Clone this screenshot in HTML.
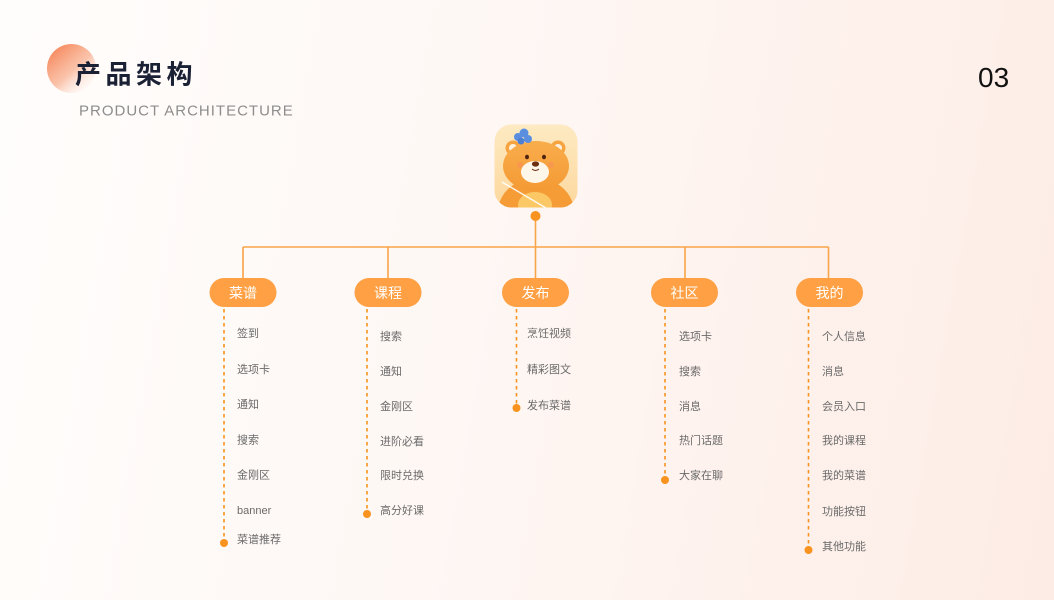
<!DOCTYPE html>
<html><head><meta charset="utf-8"><style>
html,body{margin:0;padding:0;}
body{width:1054px;height:600px;overflow:hidden;background:linear-gradient(100deg,#fffdfc 0%,#fef7f4 45%,#fdece5 100%);}
svg{display:block;}
.it{font-family:"Liberation Sans","Noto Sans CJK SC",sans-serif;font-size:11px;fill:#6a6a6a;}
.pl{font-family:"Liberation Sans","Noto Sans CJK SC",sans-serif;font-size:14px;fill:#fff;text-anchor:middle;}
</style></head><body>
<svg width="1054" height="600" viewBox="0 0 1054 600" xmlns="http://www.w3.org/2000/svg">
<defs>
<linearGradient id="cg" x1="0.15" y1="0.1" x2="0.85" y2="0.9">
<stop offset="0" stop-color="#f68b60"/>
<stop offset="0.55" stop-color="#f9b597" stop-opacity="0.8"/>
<stop offset="1" stop-color="#fde6dc" stop-opacity="0.1"/>
</linearGradient>
<linearGradient id="ig" x1="0" y1="0" x2="0" y2="1">
<stop offset="0" stop-color="#fdeac2"/>
<stop offset="1" stop-color="#fdd89e"/>
</linearGradient>
<linearGradient id="hg" x1="0" y1="0" x2="0" y2="1">
<stop offset="0" stop-color="#f9ad4c"/>
<stop offset="1" stop-color="#f49a34"/>
</linearGradient>
<clipPath id="ic"><rect x="494.5" y="124.5" width="83" height="83" rx="17"/></clipPath>
</defs>

<!-- title -->
<circle cx="71.5" cy="68.5" r="24.5" fill="url(#cg)"/>
<text x="75" y="83.5" style="font-family:'Liberation Sans','Noto Sans CJK SC',sans-serif;font-size:26px;font-weight:bold;letter-spacing:4.5px;fill:#1b2134">产品架构</text>
<text x="79" y="115.5" style="font-family:'Liberation Sans',sans-serif;font-size:15px;letter-spacing:1px;fill:#8d8d8d">PRODUCT ARCHITECTURE</text>
<text x="978" y="87" style="font-family:'Liberation Sans',sans-serif;font-size:28px;fill:#111">03</text>

<!-- icon -->
<g clip-path="url(#ic)">
<rect x="494.5" y="124.5" width="83" height="83" fill="url(#ig)"/>
<ellipse cx="536" cy="212" rx="38" ry="34" fill="#f59c37"/>
<ellipse cx="535" cy="205" rx="17" ry="13" fill="#fcc866"/>
<circle cx="513" cy="148" r="7.5" fill="#f7a33f"/>
<circle cx="513" cy="148" r="4" fill="#fff1de"/>
<circle cx="558" cy="148" r="7.5" fill="#f7a33f"/>
<circle cx="558" cy="148" r="4" fill="#fff1de"/>
<ellipse cx="536" cy="166" rx="33" ry="25" fill="url(#hg)"/>
<ellipse cx="535" cy="172" rx="14" ry="11" fill="#fff6ea"/>
<circle cx="520" cy="165" r="3" fill="#f98b5c" opacity="0.5"/>
<circle cx="551" cy="165" r="3" fill="#f98b5c" opacity="0.5"/>
<ellipse cx="527" cy="157" rx="2" ry="2.3" fill="#4e2410"/>
<ellipse cx="544" cy="157" rx="2" ry="2.3" fill="#4e2410"/>
<ellipse cx="535.5" cy="164" rx="3.6" ry="2.6" fill="#6b2f12"/>
<path d="M532 169 Q535.5 172 539 169" stroke="#6b2f12" stroke-width="1" fill="none"/>
<line x1="502" y1="182" x2="546" y2="208" stroke="#fff" stroke-width="1.4" opacity="0.9"/>
<circle cx="518" cy="137" r="4" fill="#5a8fe0"/>
<circle cx="524" cy="133" r="4.5" fill="#5a8fe0"/>
<circle cx="528" cy="139" r="4" fill="#5a8fe0"/>
<circle cx="521" cy="141" r="3.5" fill="#4d7fd3"/>
</g>

<!-- connectors -->
<g stroke="#f8a448" stroke-width="1.6" fill="none">
<line x1="535.5" y1="216" x2="535.5" y2="247"/>
<line x1="243" y1="247" x2="828.5" y2="247"/>
<line x1="243" y1="247" x2="243" y2="278"/>
<line x1="388" y1="247" x2="388" y2="278"/>
<line x1="535.5" y1="247" x2="535.5" y2="278"/>
<line x1="685" y1="247" x2="685" y2="278"/>
<line x1="828.5" y1="247" x2="828.5" y2="278"/>
</g>
<circle cx="535.5" cy="216" r="5" fill="#f7931e"/>

<!-- pills -->
<g fill="#fea043">
<rect x="209.5" y="278" width="67" height="29" rx="14.5"/>
<rect x="354.5" y="278" width="67" height="29" rx="14.5"/>
<rect x="502" y="278" width="67" height="29" rx="14.5"/>
<rect x="651" y="278" width="67" height="29" rx="14.5"/>
<rect x="796" y="278" width="67" height="29" rx="14.5"/>
</g>
<text class="pl" x="243" y="297.8">菜谱</text>
<text class="pl" x="388" y="297.8">课程</text>
<text class="pl" x="535.5" y="297.8">发布</text>
<text class="pl" x="684.5" y="297.8">社区</text>
<text class="pl" x="829.5" y="297.8">我的</text>

<!-- dashed lines -->
<g stroke="#f7931e" stroke-width="1.6" stroke-dasharray="3.5 3.5" fill="none">
<line x1="224" y1="309" x2="224" y2="543"/>
<line x1="367" y1="309" x2="367" y2="514"/>
<line x1="516.5" y1="309" x2="516.5" y2="408"/>
<line x1="665" y1="309" x2="665" y2="480"/>
<line x1="808.5" y1="309" x2="808.5" y2="550"/>
</g>
<g fill="#f7931e">
<circle cx="224" cy="543" r="4"/>
<circle cx="367" cy="514" r="4"/>
<circle cx="516.5" cy="408" r="4"/>
<circle cx="665" cy="480" r="4"/>
<circle cx="808.5" cy="550" r="4"/>
</g>

<!-- items -->
<g class="it">
<text x="237" y="337.2">签到</text>
<text x="237" y="373.2">选项卡</text>
<text x="237" y="408.2">通知</text>
<text x="237" y="443.7">搜索</text>
<text x="237" y="478.7">金刚区</text>
<text x="237" y="514" style="font-family:'Liberation Sans',sans-serif">banner</text>
<text x="237" y="543.2">菜谱推荐</text>

<text x="380" y="340.2">搜索</text>
<text x="380" y="375.2">通知</text>
<text x="380" y="410.2">金刚区</text>
<text x="380" y="445.2">进阶必看</text>
<text x="380" y="479.2">限时兑换</text>
<text x="380" y="514.2">高分好课</text>

<text x="527" y="337.2">烹饪视频</text>
<text x="527" y="373.2">精彩图文</text>
<text x="527" y="409.2">发布菜谱</text>

<text x="679" y="340.2">选项卡</text>
<text x="679" y="375.2">搜索</text>
<text x="679" y="410.2">消息</text>
<text x="679" y="444.2">热门话题</text>
<text x="679" y="479.2">大家在聊</text>

<text x="822" y="340.2">个人信息</text>
<text x="822" y="375.2">消息</text>
<text x="822" y="410.2">会员入口</text>
<text x="822" y="444.2">我的课程</text>
<text x="822" y="479.2">我的菜谱</text>
<text x="822" y="515.2">功能按钮</text>
<text x="822" y="550.2">其他功能</text>
</g>
</svg>
</body></html>
